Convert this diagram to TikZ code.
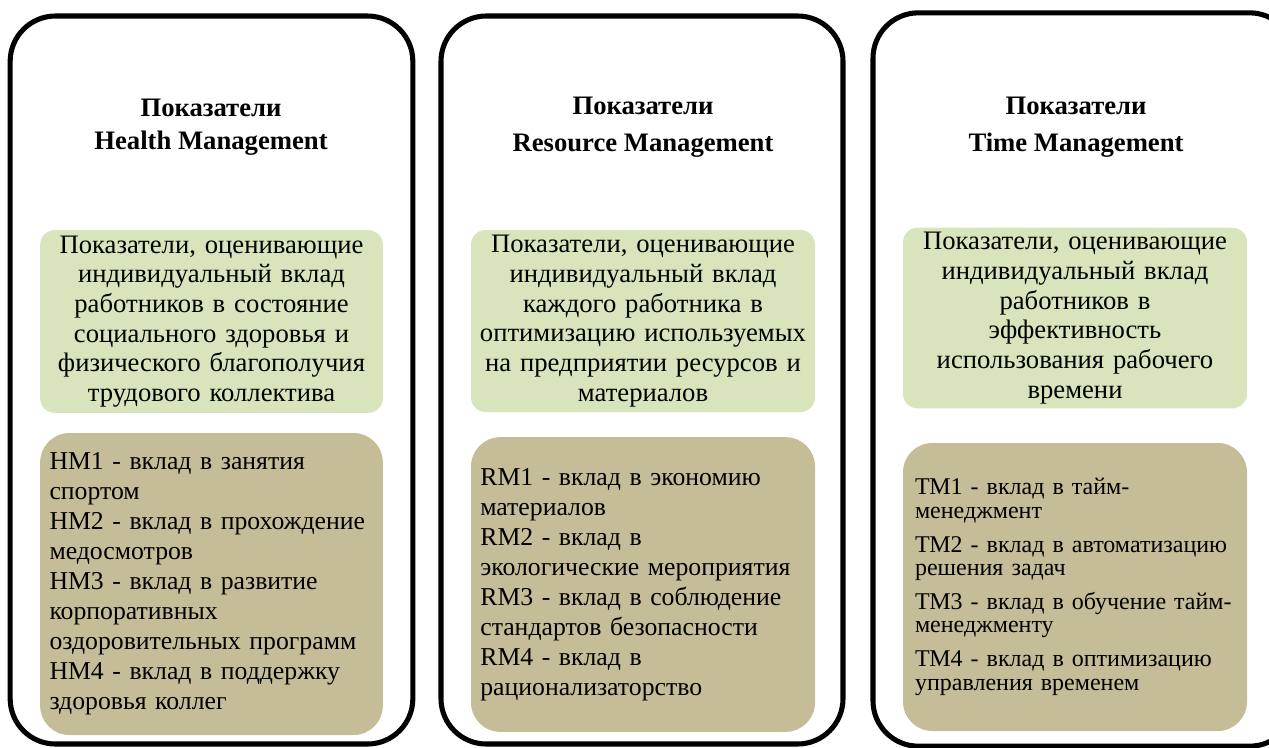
\documentclass[tikz,border=0pt]{standalone}
\usepackage{fontspec}
\setmainfont{Liberation Serif}
\usetikzlibrary{positioning}
\definecolor{cGreen}{HTML}{D8E4BC}
\definecolor{cTan}{HTML}{C4BD97}
\definecolor{cInk}{HTML}{000000}
\tikzset{
  panel/.style={draw=cInk,line width=3.8pt,rounded corners=34pt,fill=white},
  ttl/.style ={align=center,font=\fontsize{20}{25}\selectfont\bfseries},
  gbox/.style={fill=cGreen,rounded corners=11pt,align=center,text width=250pt,
               font=\fontsize{20}{22.3}\selectfont},
  tbox/.style={fill=cTan,rounded corners=22pt,align=left,inner xsep=7pt,
               font=\fontsize{19.3}{22.5}\selectfont},
}

\begin{document}
\begin{tikzpicture}[x=0.75pt,y=-0.75pt]
\useasboundingbox (0,0) rectangle (1269,747);
\clip (0,0) rectangle (1269,747);
% panels
\node[panel,minimum width=302pt,minimum height=546pt] (p1) at (211.5,380) {};
\node[panel,minimum width=301.5pt,minimum height=546pt] (p2) at (642,380) {};
\node[panel,minimum width=316.5pt,minimum height=550pt] (p3) at (1084,379.5) {};
% titles
\node[ttl] (t1) at (211,127) {Показатели\\Health Management};
\node[ttl,font=\fontsize{20}{28}\selectfont\bfseries] (t2) at (643,127) {Показатели\\Resource Management};
\node[ttl,font=\fontsize{20}{28}\selectfont\bfseries] (t3) at (1076,127) {Показатели\\Time Management};
% descriptions
\node[gbox,minimum width=257pt,minimum height=137pt] (g1) at (211.5,321.5)
  {Показатели, оценивающие\\индивидуальный вклад\\работников в состояние\\социального здоровья и\\физического благополучия\\трудового коллектива};
\node[gbox,minimum width=258pt,minimum height=136.5pt] (g2) at (643,321)
  {Показатели, оценивающие\\индивидуальный вклад\\каждого работника в\\оптимизацию используемых\\на предприятии ресурсов и\\материалов};
\node[gbox,minimum width=258pt,minimum height=132pt] (g3) at (1075,318)
  {Показатели, оценивающие\\индивидуальный вклад\\работников в\\эффективность\\использования рабочего\\времени};
% indicator lists
\node[tbox,text width=243pt,minimum height=226.5pt] (k1) at (211.5,584)
  {HM1 - вклад в занятия\\спортом\\HM2 - вклад в прохождение\\медосмотров\\HM3 - вклад в развитие\\корпоративных\\оздоровительных программ\\HM4 - вклад в поддержку\\здоровья коллег};
\node[tbox,text width=244pt,minimum height=221pt] (k2) at (643,584.5)
  {RM1 - вклад в экономию\\материалов\\RM2 - вклад в\\экологические мероприятия\\RM3 - вклад в соблюдение\\стандартов безопасности\\RM4 - вклад в\\рационализаторство};
\node[tbox,text width=240pt,inner xsep=9pt,minimum height=216pt,font=\fontsize{18}{17.5}\selectfont] (k3) at (1075,587)
  {ТМ1 - вклад в тайм-\\менеджмент\\[8pt]ТМ2 - вклад в автоматизацию\\решения задач\\[8pt]ТМ3 - вклад в обучение тайм-\\менеджменту\\[8pt]ТМ4 - вклад в оптимизацию\\управления временем};
\end{tikzpicture}
\end{document}
